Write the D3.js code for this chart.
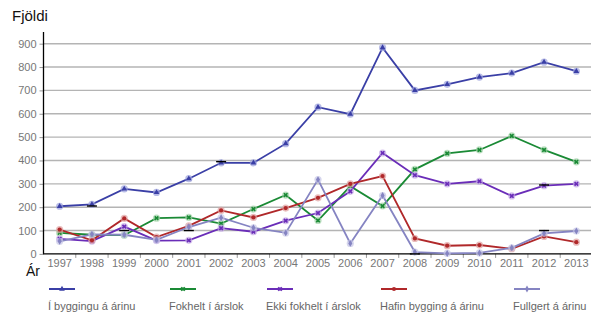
<!DOCTYPE html>
<html>
<head>
<meta charset="utf-8">
<script src="https://cdn.jsdelivr.net/npm/d3@7"></script>
<style>
  body { margin: 0; background: #fff; }
  text { font-family: "Liberation Sans Narrow", "Liberation Sans", sans-serif; }
</style>
</head>
<body>
<script>
// gögn
var years = ["1997","1998","1999","2000","2001","2002","2003","2004","2005","2006","2007","2008","2009","2010","2011","2012","2013"];
var iByggingu = [204, 212, 278, 263, 322, 390, 390, 472, 628, 598, 883, 700, 726, 757, 774, 821, 782];
var fokhelt   = [90, 82, 80, 153, 156, 130, 192, 252, 143, 290, 205, 362, 430, 445, 505, 445, 394];
var ekkiFokhelt = [64, 55, 117, 57, 58, 110, 95, 142, 175, 268, 432, 337, 300, 311, 248, 292, 300];
var hafin     = [104, 58, 152, 72, 120, 186, 156, 196, 240, 300, 333, 66, 35, 38, 22, 75, 50];
var fullgert  = [54, 84, 82, 60, 115, 155, 112, 90, 318, 45, 250, 8, 2, 4, 26, 88, 98];
var yTicks = [0, 100, 200, 300, 400, 500, 600, 700, 800, 900];
// stakir svartir strik í myndinni
var strays = [["1998", 205], ["1999", 100], ["2001", 100], ["2002", 395], ["2008", 0], ["2012", 295], ["2012", 100]];

var series = [
  {name: "Í byggingu á árinu", values: iByggingu, color: "#3a3fa6", halo: "#9aa0dc", sym: d3.symbolTriangle, lx: 49},
  {name: "Fokhelt í árslok", values: fokhelt, color: "#1a8a35", halo: "#9fd2a6", sym: d3.symbolCross, lx: 170},
  {name: "Ekki fokhelt í árslok", values: ekkiFokhelt, color: "#6a2db8", halo: "#c3a8e6", sym: d3.symbolCross, lx: 267},
  {name: "Hafin bygging á árinu", values: hafin, color: "#b0282a", halo: "#dfa0a0", sym: d3.symbolCircle, lx: 381},
  {name: "Fullgert á árinu", values: fullgert, color: "#8584c2", halo: "#c4c4e6", sym: d3.symbolDiamond, lx: 514}
];

var W = 591, H = 316;
var svg = d3.select("body").append("svg").attr("width", W).attr("height", H);

var x = d3.scaleBand().domain(years).range([43.5, 592.5]);
var y = d3.scaleLinear().domain([0, 950]).range([253.9, 32]);
var cx = function(yr) { return x(yr) + x.bandwidth() / 2; };

// gridlínur
svg.selectAll("line.grid")
   .data(yTicks.filter(function(d) { return d > 0; }))
   .enter().append("line")
   .attr("x1", 43).attr("x2", W)
   .attr("y1", function(d) { return y(d); })
   .attr("y2", function(d) { return y(d); })
   .style("stroke", "#b4b4b4").style("stroke-width", 1.4);

// y ás
var yAxis = svg.append("g").attr("transform", "translate(43.5,0)")
   .call(d3.axisLeft(y).tickValues(yTicks).tickSize(4).tickPadding(3));
yAxis.select(".domain").remove();
yAxis.selectAll(".tick line").style("stroke", "#999");
yAxis.selectAll(".tick text").style("fill", "#777").style("font-size", "11px");
svg.append("line").attr("x1", 43.5).attr("x2", 43.5).attr("y1", y(950)).attr("y2", y(0))
   .style("stroke", "#000").style("stroke-width", 1.3);

// x ás
var xAxis = svg.append("g").attr("transform", "translate(0," + y(0) + ")")
   .call(d3.axisBottom(x).tickSize(0).tickPadding(5));
xAxis.select(".domain").remove();
xAxis.selectAll(".tick text").style("fill", "#777").style("font-size", "11px");
svg.selectAll("line.xtick")
   .data(years.slice(1))
   .enter().append("line")
   .attr("x1", function(d) { return x(d); }).attr("x2", function(d) { return x(d); })
   .attr("y1", y(0)).attr("y2", y(0) + 4)
   .style("stroke", "#999");
svg.append("line").attr("x1", 43).attr("x2", W).attr("y1", y(0)).attr("y2", y(0))
   .style("stroke", "#000").style("stroke-width", 1.3);

// línur
var line = d3.line()
   .x(function(d, i) { return cx(years[i]); })
   .y(function(d) { return y(d); });

series.forEach(function(s) {
  svg.append("path").datum(s.values)
     .attr("d", line)
     .attr("fill", "none")
     .style("stroke", s.color).style("stroke-width", 1.8);
  svg.selectAll(null).data(s.values).enter().append("circle")
     .attr("cx", function(d, i) { return cx(years[i]); })
     .attr("cy", function(d) { return y(d); })
     .attr("r", 3.6)
     .attr("fill", s.halo).attr("opacity", 0.7);
  svg.selectAll(null).data(s.values).enter().append("path")
     .attr("d", d3.symbol().type(s.sym).size(14))
     .attr("transform", function(d, i) {
        var rot = s.sym === d3.symbolCross ? " rotate(45)" : "";
        return "translate(" + cx(years[i]) + "," + y(d) + ")" + rot; })
     .attr("fill", s.color);
});

// stök strik
svg.selectAll("line.stray").data(strays).enter().append("line")
   .attr("x1", function(d) { return cx(d[0]) - 5; })
   .attr("x2", function(d) { return cx(d[0]) + 5; })
   .attr("y1", function(d) { return y(d[1]); })
   .attr("y2", function(d) { return y(d[1]); })
   .style("stroke", "#000").style("stroke-width", 1.4);

// titlar
svg.append("text").attr("x", 12).attr("y", 21).text("Fjöldi")
   .style("font-size", "15px").style("fill", "#111").style("font-family", "'Liberation Sans', sans-serif");
svg.append("text").attr("x", 26).attr("y", 276).text("Ár")
   .style("font-size", "14px").style("fill", "#111").style("font-family", "'Liberation Sans', sans-serif");

// skýringar
var leg = svg.selectAll("g.leg").data(series).enter().append("g")
   .attr("transform", function(d) { return "translate(" + d.lx + ",0)"; });
leg.append("line").attr("x1", 0).attr("x2", 26).attr("y1", 289).attr("y2", 289)
   .style("stroke", function(d) { return d.color; }).style("stroke-width", 2);
leg.append("path")
   .attr("d", function(d) { return d3.symbol().type(d.sym).size(14)(); })
   .attr("transform", function(d) { return "translate(13,289)" + (d.sym === d3.symbolCross ? " rotate(45)" : ""); })
   .attr("fill", function(d) { return d.color; });
leg.append("text").attr("x", -1).attr("y", 310).text(function(d) { return d.name; })
   .style("font-size", "11px").style("fill", "#666");
</script>
</body>
</html>
